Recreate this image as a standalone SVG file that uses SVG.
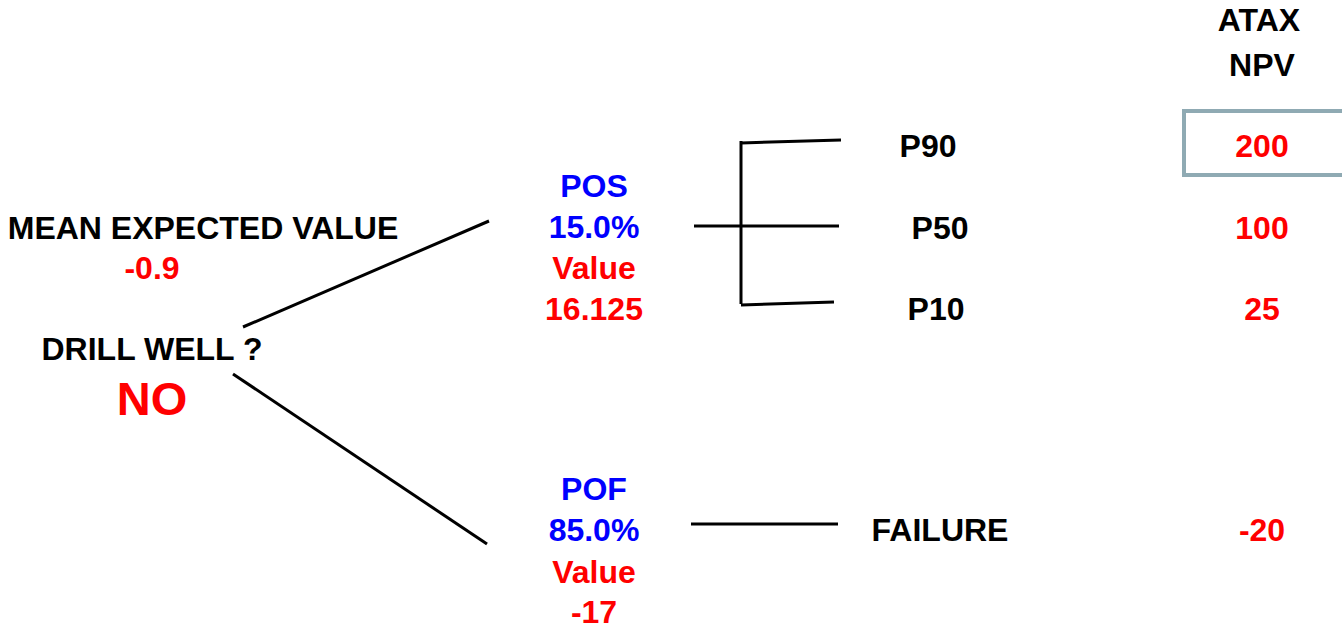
<svg xmlns="http://www.w3.org/2000/svg" width="1342" height="632" viewBox="0 0 1342 632">
<style>
text{font-family:"Liberation Sans",Arial,sans-serif;font-weight:bold;font-size:32px;text-anchor:middle}
.k{fill:#000}.r{fill:#ff0000}.b{fill:#0000ff}
.ln{stroke:#000;stroke-width:3;fill:none}
</style>
<rect width="1342" height="632" fill="#fff"/>
<g id="header">
<text class="k" x="1259" y="31">ATAX</text>
<text class="k" x="1262" y="76">NPV</text>
</g>
<g id="root">
<text class="k" x="203" y="239">MEAN EXPECTED VALUE</text>
<text class="r" x="152" y="279">-0.9</text>
<text class="k" x="152" y="360">DRILL WELL ?</text>
<text class="r" x="152" y="415" style="font-size:47px">NO</text>
</g>
<g id="pos">
<text class="b" x="594" y="197">POS</text>
<text class="b" x="594" y="238">15.0%</text>
<text class="r" x="594" y="279">Value</text>
<text class="r" x="594" y="320">16.125</text>
</g>
<g id="pof">
<text class="b" x="594" y="500">POF</text>
<text class="b" x="594" y="541">85.0%</text>
<text class="r" x="594" y="583">Value</text>
<text class="r" x="594" y="623">-17</text>
</g>
<g id="p90"><text class="k" x="928" y="157">P90</text></g>
<g id="p50"><text class="k" x="940" y="239">P50</text></g>
<g id="p10"><text class="k" x="936" y="320">P10</text></g>
<g id="failure"><text class="k" x="940" y="541">FAILURE</text></g>
<g id="v200">
<rect x="1184" y="111" width="160" height="64" fill="#fff" stroke="#8FAAB3" stroke-width="4"/>
<text class="r" x="1262" y="157">200</text>
</g>
<g id="v100"><text class="r" x="1262" y="239">100</text></g>
<g id="v25"><text class="r" x="1262" y="320">25</text></g>
<g id="vm20"><text class="r" x="1262" y="541">-20</text></g>
<g id="connectors">
<line class="ln" x1="243" y1="327" x2="489" y2="221"/>
<line class="ln" x1="233" y1="374" x2="487" y2="544"/>
<line class="ln" x1="741" y1="141" x2="741" y2="304"/>
<line class="ln" x1="741" y1="143" x2="841" y2="140"/>
<line class="ln" x1="694" y1="226" x2="839" y2="226"/>
<line class="ln" x1="741" y1="305" x2="834" y2="302"/>
<line class="ln" x1="691" y1="524" x2="838" y2="524"/>
</g>
</svg>
